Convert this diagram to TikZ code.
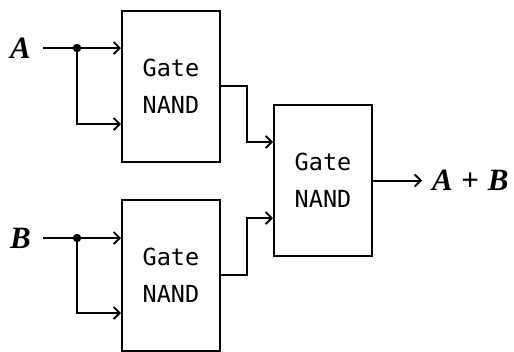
\documentclass[tikz,border=0pt]{standalone}
\usepackage{fontspec}
\setmainfont{Liberation Serif}
\setmonofont{DejaVu Sans Mono}
\usetikzlibrary{arrows.meta}
\begin{document}
\begin{tikzpicture}[x=1pt,y=-1pt,
  gate/.style={draw,line width=2pt,minimum width=98pt,minimum height=151pt,inner sep=0pt,
    font=\fontsize{23.5}{37}\selectfont\ttfamily,align=center},
  lbl/.style={font=\fontsize{31}{33}\selectfont\itshape\bfseries,inner sep=0pt},
  wire/.style={line width=2pt,-{Straight Barb[length=6pt,width=12pt,line width=1.8pt]}},
  plain/.style={line width=2pt},
  dot/.style={circle,fill,inner sep=0pt,minimum size=8.5pt}]
\useasboundingbox (0,0) rectangle (514,351);
\node[gate] (g1) at (171,86) {Gate\\NAND};
\node[gate] (g2) at (171,275) {Gate\\NAND};
\node[gate] (g3) at (323,180.5) {Gate\\NAND};
\node[lbl,anchor=east] (a) at (31,48) {A};
\node[lbl,anchor=east] (b) at (31,238) {B};
\node[lbl,anchor=west] (out) at (432,180.5) {A\;{\upshape+}\;B};
\node[dot] (ja) at (77,48) {};
\node[dot] (jb) at (77,238) {};
\coordinate (oe) at (422,180.5);
\draw[plain] (a.east)+(12,0) -- (ja);
\draw[plain] (b.east)+(12,0) -- (jb);
\draw[wire] (ja) -- (g1.west |- ja);
\draw[wire] (ja) |- (g1.west |- 0,124);
\draw[wire] (jb) -- (g2.west |- jb);
\draw[wire] (jb) |- (g2.west |- 0,313);
\draw[wire] (g1.east |- 0,86) -- (247,86) |- (g3.west |- 0,142);
\draw[wire] (g2.east |- 0,275) -- (247,275) |- (g3.west |- 0,218);
\draw[wire] (g3.east) -- (oe);
\end{tikzpicture}
\end{document}
